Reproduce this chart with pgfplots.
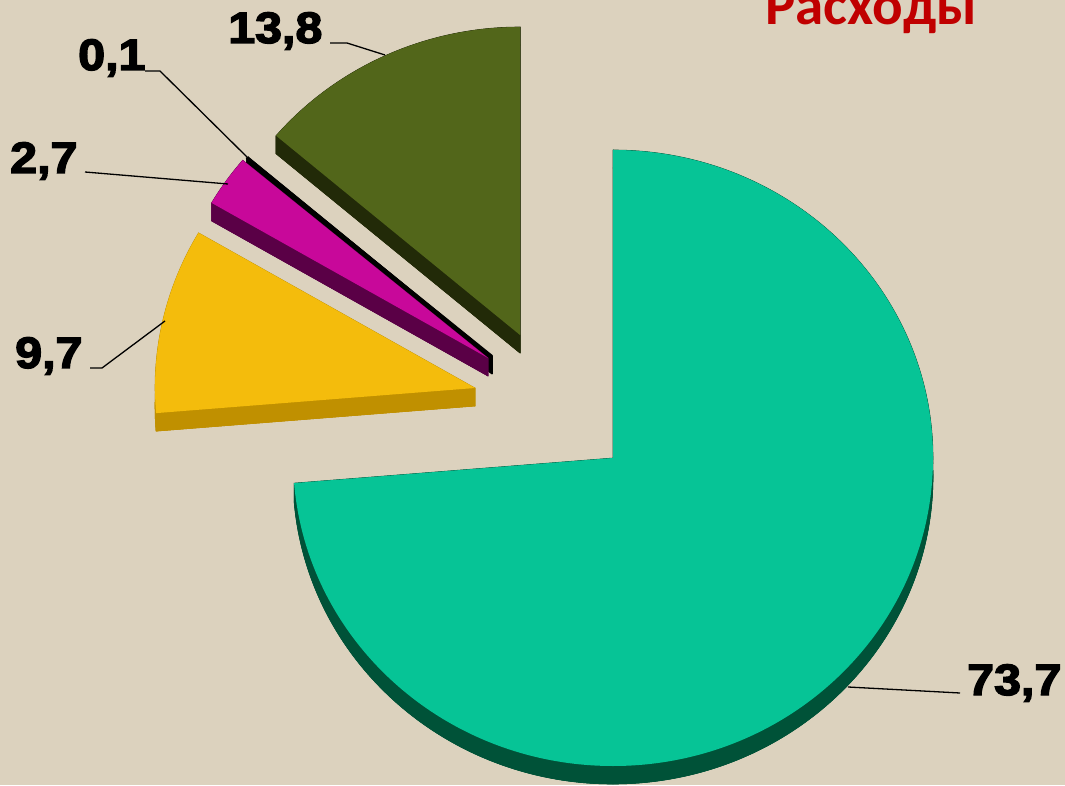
\documentclass[border=0pt]{standalone}
\usepackage{pgfplots}
\usepackage{pgfplotstable}
\usepackage{graphicx}
\pgfplotsset{compat=1.18}
\usepackage{fontspec}
\setmainfont{Liberation Sans}
\newfontfamily\lblfont[BoldFeatures={FakeBold=3}]{Liberation Sans}
\newfontfamily\titlefont{Carlito}

\definecolor{bg}{RGB}{220,210,190}
\definecolor{tealT}{RGB}{6,196,150}
\definecolor{tealS}{RGB}{0,82,56}
\definecolor{yelT}{RGB}{244,188,12}
\definecolor{yelS}{RGB}{192,144,0}
\definecolor{magT}{RGB}{200,8,154}
\definecolor{magS}{RGB}{90,0,70}
\definecolor{oliT}{RGB}{82,102,26}
\definecolor{oliS}{RGB}{34,42,8}
\definecolor{blkT}{RGB}{0,0,0}
\definecolor{blkS}{RGB}{0,0,0}
\definecolor{titlered}{RGB}{192,0,0}

% share (%), and explode offset of each slice's apex from the pie centre
\pgfplotstableread{
name value dx dy
T 73.7 0 0
Y 9.7 -138 70
M 2.7 -125 100
K 0.1 -121 102
O 13.8 -93 123
}\piedata

\pgfplotstablegetelem{0}{value}\of\piedata \let\vT\pgfplotsretval
\pgfplotstablegetelem{1}{value}\of\piedata \let\vY\pgfplotsretval
\pgfplotstablegetelem{2}{value}\of\piedata \let\vM\pgfplotsretval
\pgfplotstablegetelem{3}{value}\of\piedata \let\vK\pgfplotsretval
\pgfplotstablegetelem{4}{value}\of\piedata \let\vO\pgfplotsretval
\pgfplotstablegetelem{1}{dx}\of\piedata \let\dxY\pgfplotsretval
\pgfplotstablegetelem{2}{dx}\of\piedata \let\dxM\pgfplotsretval
\pgfplotstablegetelem{3}{dx}\of\piedata \let\dxK\pgfplotsretval
\pgfplotstablegetelem{4}{dx}\of\piedata \let\dxO\pgfplotsretval
\pgfplotstablegetelem{1}{dy}\of\piedata \let\dyY\pgfplotsretval
\pgfplotstablegetelem{2}{dy}\of\piedata \let\dyM\pgfplotsretval
\pgfplotstablegetelem{3}{dy}\of\piedata \let\dyK\pgfplotsretval
\pgfplotstablegetelem{4}{dy}\of\piedata \let\dyO\pgfplotsretval

\pgfmathsetmacro\cx{613}
\pgfmathsetmacro\cy{327}
\pgfmathsetmacro\rx{320}
\pgfmathsetmacro\ry{308}
\pgfmathsetmacro\dep{18}

\pgfmathsetmacro\aT{90}
\pgfmathsetmacro\bT{\aT-3.6*\vT}
\pgfmathsetmacro\bY{\bT-3.6*\vY}
\pgfmathsetmacro\bM{\bY-3.6*\vM}
\pgfmathsetmacro\bK{\bM-3.6*\vK}
\pgfmathsetmacro\bO{\bK-3.6*\vO}

\pgfmathsetmacro\cxY{\cx+\dxY}\pgfmathsetmacro\cyY{\cy+\dyY}
\pgfmathsetmacro\cxM{\cx+\dxM}\pgfmathsetmacro\cyM{\cy+\dyM}
\pgfmathsetmacro\cxK{\cx+\dxK}\pgfmathsetmacro\cyK{\cy+\dyK}
\pgfmathsetmacro\cxO{\cx+\dxO}\pgfmathsetmacro\cyO{\cy+\dyO}

% #1 cx, #2 cy, #3 start angle, #4 end angle, #5 top colour, #6 side colour
\newcommand\slice[6]{%
  \fill[#6,draw=#6,line width=0.6pt,line join=round] (axis cs:#1,{#2-\dep}) -- (axis cs:{#1+\rx*cos(#3)},{#2-\dep+\ry*sin(#3)})
     arc[start angle=#3,end angle=#4,x radius=\rx pt,y radius=\ry pt] -- cycle;
  \fill[#6,draw=#6,line width=0.6pt,line join=round] (axis cs:{#1+\rx*cos(#3)},{#2+\ry*sin(#3)})
     arc[start angle=#3,end angle=#4,x radius=\rx pt,y radius=\ry pt] -- ++(0pt,-\dep pt)
     arc[start angle=#4,end angle=#3,x radius=\rx pt,y radius=\ry pt] -- cycle;
  \fill[#6,draw=#6,line width=0.6pt,line join=round] (axis cs:#1,#2) -- (axis cs:{#1+\rx*cos(#3)},{#2+\ry*sin(#3)}) -- ++(0pt,-\dep pt) -- (axis cs:#1,{#2-\dep}) -- cycle;
  \fill[#6,draw=#6,line width=0.6pt,line join=round] (axis cs:#1,#2) -- (axis cs:{#1+\rx*cos(#4)},{#2+\ry*sin(#4)}) -- ++(0pt,-\dep pt) -- (axis cs:#1,{#2-\dep}) -- cycle;
  \fill[#5] (axis cs:#1,#2) -- (axis cs:{#1+\rx*cos(#3)},{#2+\ry*sin(#3)})
     arc[start angle=#3,end angle=#4,x radius=\rx pt,y radius=\ry pt] -- cycle;
}

\newcommand\lbl[1]{\scalebox{1.1}[1]{\lblfont\bfseries\fontsize{44}{46}\selectfont #1}}

\begin{document}
\begin{tikzpicture}
\begin{axis}[x=1pt,y=1pt,xmin=0,xmax=1065,ymin=0,ymax=785,
  hide axis,clip=false,anchor=origin,at={(0,0)}]
  \fill[bg] (axis cs:0,0) rectangle (axis cs:1065,785);

  \slice{\cxO}{\cyO}{\bK}{\bO}{oliT}{oliS}
  \slice{\cxK}{\cyK}{\bM}{\bK}{blkT}{blkS}
  \draw[black,line width=2.2pt,line cap=round] (axis cs:\cxK,\cyK) -- (axis cs:{\cxK+\rx*cos(\bM)},{\cyK+\ry*sin(\bM)});
  \draw[black,line width=2.2pt] (axis cs:\cxK,{\cyK-\dep}) -- (axis cs:\cxK,\cyK);
  \slice{\cxM}{\cyM}{\bY}{\bM}{magT}{magS}
  \slice{\cxY}{\cyY}{\bT}{\bY}{yelT}{yelS}
  \slice{\cx}{\cy}{\aT}{\bT}{tealT}{tealS}

  % leader lines
  \draw[black,line width=1.3pt] (axis cs:330,742) -- (axis cs:347,742) -- (axis cs:385,730);
  \draw[black,line width=1.3pt] (axis cs:145,714) -- (axis cs:160,714) -- (axis cs:247,628);
  \draw[black,line width=1.3pt] (axis cs:85,613) -- (axis cs:228,601);
  \draw[black,line width=1.3pt] (axis cs:90,417) -- (axis cs:102,417) -- (axis cs:165,464);
  \draw[black,line width=1.3pt] (axis cs:848,98) -- (axis cs:960,92);

  % data labels
  \node[anchor=base west,inner sep=0pt] at (axis cs:228,742) {\lbl{13,8}};
  \node[anchor=base west,inner sep=0pt] at (axis cs:78,715) {\lbl{0,1}};
  \node[anchor=base west,inner sep=0pt] at (axis cs:10,612) {\lbl{2,7}};
  \node[anchor=base west,inner sep=0pt] at (axis cs:15,417) {\lbl{9,7}};
  \node[anchor=base west,inner sep=0pt] at (axis cs:967,90) {\lbl{73,7}};

  % title (cut by the top edge, as in the reference)
  \node[anchor=base west,inner sep=0pt,text=titlered] at (axis cs:765,760)
    {\titlefont\bfseries\fontsize{57}{60}\selectfont Расходы};
\end{axis}
\pgfresetboundingbox
\useasboundingbox (0,0) rectangle (1065pt,785pt);
\end{tikzpicture}
\end{document}
